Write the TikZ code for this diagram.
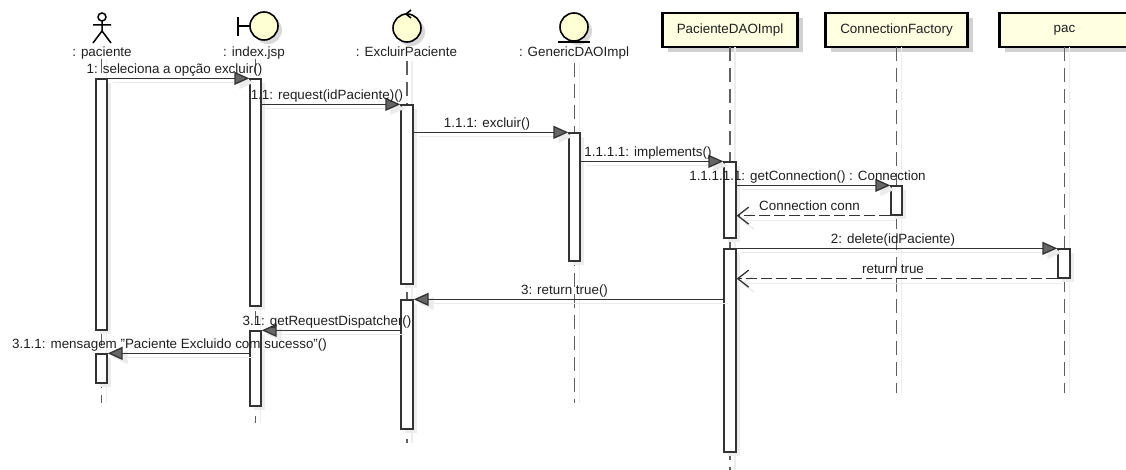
\documentclass[tikz,border=0pt]{standalone}
\usepackage{fontspec}
\setmainfont{Liberation Sans}
\usetikzlibrary{arrows.meta,positioning,fit,shadows}

\definecolor{notefill}{RGB}{255,255,226}
\definecolor{iconfill}{RGB}{255,255,212}
\definecolor{lifegray}{RGB}{95,95,95}

\tikzset{
    txt/.style={font=\fontsize{13.4}{16}\selectfont, text=black!88, inner sep=0pt},
    classbox/.style={
           rectangle,
           draw=black, line width=2.2pt,
           fill=notefill,
           minimum height=34pt,
           outer sep=0pt,
           txt,
           drop shadow={shadow xshift=5pt, shadow yshift=-5pt, fill=black!18, opacity=1},
           },
    icon/.style={draw=black, line width=1.6pt, fill=iconfill,
           drop shadow={shadow xshift=4pt, shadow yshift=-4pt, fill=black!15, opacity=1}},
    lifeline/.style={draw=lifegray, line width=1.8pt, dash pattern=on 14pt off 7pt,
           preaction={draw=black!7, solid, line width=1.5pt, transform canvas={xshift=5pt}}},
    actbar/.style={rectangle, draw=black!80, line width=1.3pt, fill=white, inner sep=0pt,
           drop shadow={shadow xshift=4pt, shadow yshift=-4pt, fill=black!7, opacity=1}},
    msg/.style={draw=black!80, line width=1.3pt,
           -{Triangle[length=15pt, width=13pt, fill=black!60]},
           preaction={draw=black!8, line width=1.5pt,
                      -{Triangle[length=15pt, width=13pt, fill=black!8]},
                      transform canvas={shift={(5pt,-4pt)}}}},
    ret/.style={draw=black!80, line width=1.3pt, dash pattern=on 11pt off 4pt,
           -{Straight Barb[length=11pt, width=17pt]},
           preaction={draw=black!8, solid, line width=1.5pt,
                      transform canvas={shift={(5pt,-5pt)}}}},
    msglbl/.style={txt, above, inner sep=1.5pt, text depth=3pt, xshift=-4pt},
}

\begin{document}
\begin{tikzpicture}[x=1pt, y=-1pt]
  \useasboundingbox (0,0) rectangle (1126,470);

  % heads of the lifelines
  \node[txt, anchor=base] (paciente) at (102,56.5) {: paciente};
  \node[txt, anchor=base] (indexjsp) at (254,56.5) {: index.jsp};
  \node[txt, anchor=base] (excluir) at (406.5,56.5) {: ExcluirPaciente};
  \node[txt, anchor=base] (generic) at (574,56.5) {: GenericDAOImpl};
  \node[classbox, minimum width=135pt] (pdao) at (730,30) {PacienteDAOImpl};
  \node[classbox, minimum width=142pt, right=28pt of pdao] (cfactory) {ConnectionFactory};
  \node[classbox, minimum width=130pt, right=32pt of cfactory] (pac) {pac};

  % actor, boundary, control, entity
  \draw[line width=1.5pt] (102,17) circle[radius=4]
     (102,21) -- (102,31) (93,25) -- (111,25) (93,43) -- (102,31) -- (111,43);
  \draw[icon] (264,26) circle[radius=14];
  \draw[line width=1.8pt] (238,17) -- (238,36) (238,26) -- (250,26);
  \draw[icon] (407,28) circle[radius=14];
  \draw[line width=1.5pt] (411,10) -- (406,14) -- (411,18);
  \draw[icon] (574,27) circle[radius=14];
  \draw[line width=1.8pt] (558,42) -- (590,42);

  % lifelines
  \coordinate (pacienteEnd) at (101.5,403);
  \coordinate (indexEnd) at (255.5,423);
  \coordinate (excluirEnd) at (407,443);
  \coordinate (genericEnd) at (574.5,403);
  \coordinate (pdaoEnd) at (730,470);
  \coordinate (cfactoryEnd) at (896.5,393);
  \coordinate (pacEnd) at (1064.5,393);
  \draw[lifeline] (pacienteEnd |- paciente.south) -- (pacienteEnd);
  \draw[lifeline] (indexEnd |- indexjsp.south) -- (indexEnd);
  \draw[lifeline] ([yshift=-4pt]excluirEnd |- excluir.south) -- (excluirEnd);
  \draw[lifeline] ([yshift=-4pt]genericEnd |- generic.south) -- (genericEnd);
  \draw[lifeline] (pdao.south) -- (pdaoEnd);
  \draw[lifeline] (cfactory.south) -- (cfactoryEnd);
  \draw[lifeline] (pac.south) -- (pacEnd);

  % activation bars
  \node[actbar, fit={(96,79) (107,330)}] (pa1) {};
  \node[actbar, fit={(96,354) (107,383)}] (pa2) {};
  \node[actbar, fit={(250,79) (261,306)}] (ix1) {};
  \node[actbar, fit={(250,331) (261,406)}] (ix2) {};
  \node[actbar, fit={(401,105) (413,284)}] (ex1) {};
  \node[actbar, fit={(401,300) (413,429)}] (ex2) {};
  \node[actbar, fit={(569,133) (580,261)}] (ge1) {};
  \node[actbar, fit={(724,162) (736,238)}] (pd1) {};
  \node[actbar, fit={(724,249) (736,452)}] (pd2) {};
  \node[actbar, fit={(891,186) (902,215)}] (cf1) {};
  \node[actbar, fit={(1058,249) (1070,278)}] (pc1) {};

  % messages
  \draw[msg] (pa1.north east) -- (ix1.north west)
     node[msglbl, midway] {1: seleciona a opção excluir()};
  \draw[msg] (ix1.east |- ex1.north) -- (ex1.north west)
     node[msglbl, midway] {1.1: request(idPaciente)()};
  \draw[msg] (ex1.east |- ge1.north) -- (ge1.north west)
     node[msglbl, midway] {1.1.1: excluir()};
  \draw[msg] (ge1.east |- pd1.north) -- (pd1.north west)
     node[msglbl, midway] {1.1.1.1: implements()};
  \draw[msg] (pd1.east |- cf1.north) -- (cf1.north west)
     node[msglbl, midway, xshift=-2pt] {1.1.1.1.1: getConnection() : Connection};
  \draw[ret] (cf1.south west) -- (pd1.east |- cf1.south)
     node[msglbl, midway] {Connection conn};
  \draw[msg] (pd2.north east) -- (pc1.north west)
     node[msglbl, midway] {2: delete(idPaciente)};
  \draw[ret] (pc1.south west) -- (pd2.east |- pc1.south)
     node[msglbl, midway] {return true};
  \draw[msg] (pd2.west |- ex2.north) -- (ex2.north east)
     node[msglbl, midway] {3: return true()};
  \draw[msg] (ex2.west |- ix2.north) -- (ix2.north east)
     node[msglbl, midway] {3.1: getRequestDispatcher()};
  \draw[msg] (ix2.west |- pa2.north) -- (pa2.north east)
     node[msglbl, midway, xshift=-5pt] {3.1.1: mensagem "Paciente Excluido com sucesso"()};
\end{tikzpicture}
\end{document}
